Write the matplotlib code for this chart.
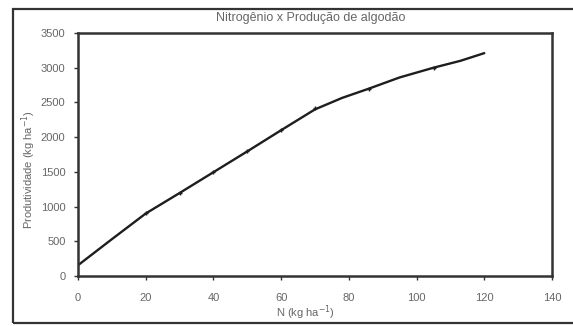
import matplotlib
matplotlib.use("Agg")
import matplotlib.pyplot as plt
from matplotlib.patches import Rectangle

plt.rcParams['font.family'] = ['Liberation Sans', 'DejaVu Sans']

title = "Nitrogênio x Produção de algodão"
xlabel = "N (kg ha$^{-1}$)"
ylabel = "Produtividade (kg ha$^{-1}$)"

# fitted curve
curve_n = [0, 10, 20, 30, 40, 50, 60, 70, 78, 86, 95, 105, 113, 120]
curve_y = [155, 530, 900, 1195, 1495, 1795, 2100, 2400, 2565, 2700, 2860, 3000, 3100, 3210]

# observed points (small markers)
obs_n = [20, 30, 40, 50, 60, 70, 86, 105]
obs_y = [905, 1190, 1495, 1795, 2105, 2415, 2700, 3000]

xticks = [0, 20, 40, 60, 80, 100, 120, 140]
yticks = [0, 500, 1000, 1500, 2000, 2500, 3000, 3500]

fig = plt.figure(figsize=(5.73, 3.26), dpi=100)
fig.patch.set_facecolor('white')

# outer scanned frame
fig.patches.append(Rectangle((13/573, 3/326), 1.2, 314/326, transform=fig.transFigure,
                             fill=False, edgecolor='#333333', linewidth=1.6))

ax = fig.add_axes([78/573, 50/326, 474/573, 243/326])
ax.plot(curve_n, curve_y, color='#1e1e1e', linewidth=1.7, solid_capstyle='round',
        solid_joinstyle='round')
ax.plot(obs_n, obs_y, linestyle='none', marker='+', markersize=3.5,
        markeredgewidth=1.0, color='#1e1e1e')

ax.set_xlim(0, 140)
ax.set_ylim(0, 3500)
ax.set_xticks(xticks)
ax.set_yticks(yticks)
ax.tick_params(axis='both', labelsize=8, colors='#333333', labelcolor='#666666',
               direction='out', length=3, width=1.0)
ax.tick_params(axis='x', pad=9)
ax.tick_params(axis='y', pad=6)
for s in ax.spines.values():
    s.set_linewidth(1.8)
    s.set_color('#333333')

fig.text(311/573, 1 - 18/326, title, fontsize=9, color='#666666', ha='center', va='center')
fig.text(305/573, 1 - 313/326, xlabel, fontsize=8, color='#666666', ha='center', va='center')
fig.text(29/573, 1 - 170/326, ylabel, fontsize=8, color='#666666', ha='center', va='center',
         rotation=90)

fig.savefig("out.png", dpi=100)
